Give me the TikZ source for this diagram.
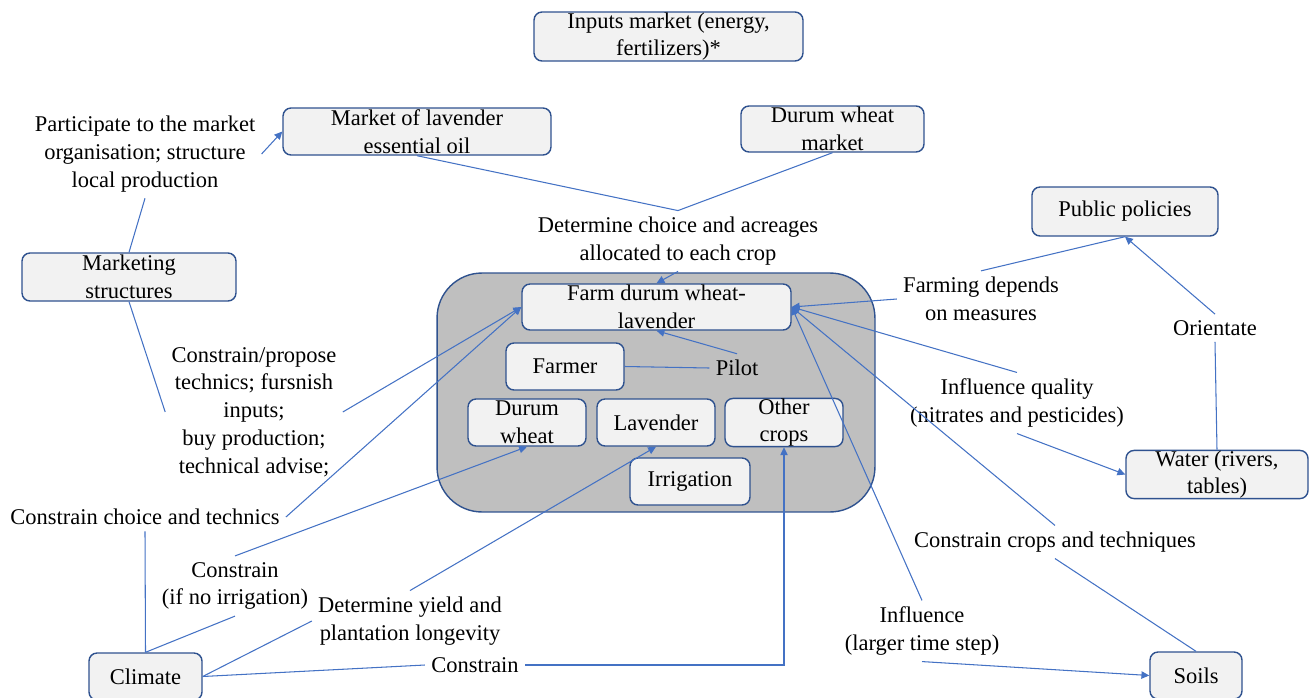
\documentclass[tikz,border=0pt]{standalone}
\usepackage{fontspec}
\setmainfont{Liberation Serif}
\usetikzlibrary{arrows.meta}
\definecolor{linkblue}{HTML}{4472C4}
\definecolor{boxedge}{HTML}{2F528F}
\definecolor{boxfill}{HTML}{F2F2F2}
\definecolor{bigfill}{HTML}{BFBFBF}
\begin{document}
\begin{tikzpicture}[x=0.02cm,y=-0.02cm,
 every node/.style={font=\fontsize{12.8}{15.8}\selectfont, align=center},
 box/.style={draw=boxedge, fill=boxfill, line width=0.8pt, rounded corners=0.16cm, inner sep=0pt},
 lbl/.style={inner sep=0.12cm},
 link/.style={draw=linkblue, line width=0.6pt},
 arr/.style={link, -{Triangle[length=4.5pt,width=4.2pt]}},
]
\useasboundingbox (0,0) rectangle (1309,697);

% big farm container
\node[box, fill=bigfill, rounded corners=0.9cm, minimum width=8.76cm, minimum height=4.78cm] (big) at (656,392.5) {};

% boxes
\node[box, minimum width=5.38cm, minimum height=0.98cm] (inputs) at (668.5,36.5) {Inputs market (energy,\\fertilizers)*};
\node[box, minimum width=5.36cm, minimum height=0.94cm] (lavmkt) at (417,131.5) {Market of lavender\\essential oil};
\node[box, minimum width=3.66cm, minimum height=0.92cm] (wheatmkt) at (832.5,129) {Durum wheat\\market};
\node[box, minimum width=3.72cm, minimum height=0.98cm] (policies) at (1125,211.5) {Public policies};
\node[box, minimum width=4.28cm, minimum height=0.96cm] (marketing) at (129,277) {Marketing\\structures};
\node[box, minimum width=3.64cm, minimum height=0.94cm] (water) at (1217,474.5) {Water (rivers,\\tables)};
\node[box, minimum width=5.38cm, minimum height=0.92cm] (farm) at (656.5,307) {Farm durum wheat-\\lavender};
\node[box, minimum width=2.36cm, minimum height=0.94cm] (farmer) at (565,366.5) {Farmer};
\node[box, minimum width=2.36cm, minimum height=0.94cm] (durum) at (527,422.5) {Durum\\wheat};
\node[box, minimum width=2.36cm, minimum height=0.94cm] (lav) at (656,422.5) {Lavender};
\node[box, minimum width=2.36cm, minimum height=0.94cm] (other) at (784,422.5) {Other\\crops};
\node[box, minimum width=2.4cm, minimum height=0.94cm] (irrig) at (690,481.5) {Irrigation};
\node[box, minimum width=2.26cm, minimum height=0.94cm] (climate) at (145.5,676.5) {Climate};
\node[box, minimum width=1.84cm, minimum height=0.94cm] (soils) at (1196,675.5) {Soils};

% labels
\node[lbl] (part) at (145,154) {Participate to the market\\organisation; structure\\local production};
\node[lbl] (dc) at (678,241) {Determine choice and acreages\\allocated to each crop};
\node[lbl] (fd) at (981,299) {Farming depends\\on measures};
\node[lbl] (orient) at (1215,328) {Orientate};
\node[lbl] (pilot) at (737,368) {Pilot};
\node[lbl] (iq) at (1017,403) {Influence quality\\(nitrates and pesticides)};
\node[lbl] (cp) at (254,412) {Constrain/propose\\technics; fursnish\\inputs;\\buy production;\\technical advise;};
\node[lbl] (cct) at (145,517) {Constrain choice and technics};
\node[lbl] (cc) at (1055,542) {Constrain crops and techniques};
\node[lbl] (cni) at (235,586) {Constrain\\(if no irrigation)};
\node[lbl] (dy) at (410,621) {Determine yield and\\plantation longevity};
\node[lbl] (il) at (922,631) {Influence\\(larger time step)};
\node[lbl] (c3) at (475,665) {Constrain};

% connectors
\draw[link] (marketing.north) -- (part.south);
\draw[arr] (part.east) -- (lavmkt.west);
\draw[link] (lavmkt.south) -- (dc.north) -- (wheatmkt.south);
\draw[arr] (dc.south) -- (farm.north);
\draw[arr] (fd.west) -- (farm.east);
\draw[link] (fd.north) -- (policies.south);
\draw[arr] (orient.north) -- (policies.south);
\draw[link] (water.north) -- (orient.south);
\draw[arr] (iq.north) -- (farm.east);
\draw[arr] (iq.south) -- (water.west);
\draw[arr] (cc.north) -- (farm.east);
\draw[link] (soils.north) -- (cc.south);
\draw[arr] (il.north) -- (farm.east);
\draw[arr] (il.south) -- (soils.west);
\draw[link] (farmer.east) -- (pilot.west);
\draw[arr] (pilot.north) -- (farm.south);
\draw[link] (marketing.south) -- (cp.west);
\draw[arr] (cp.east) -- (farm.west);
\draw[arr] (cct.east) -- (farm.west);
\draw[link] (climate.north) -- (cct.south);
\draw[link] (climate.north) -- (cni.south);
\draw[arr] (cni.north) -- (durum.south);
\draw[link] (climate.east) -- (dy.west);
\draw[arr] (dy.north) -- (lav.south);
\draw[link] (climate.east) -- (c3.west);
\draw[arr] (c3.east) -| (other.south);
\end{tikzpicture}
\end{document}
